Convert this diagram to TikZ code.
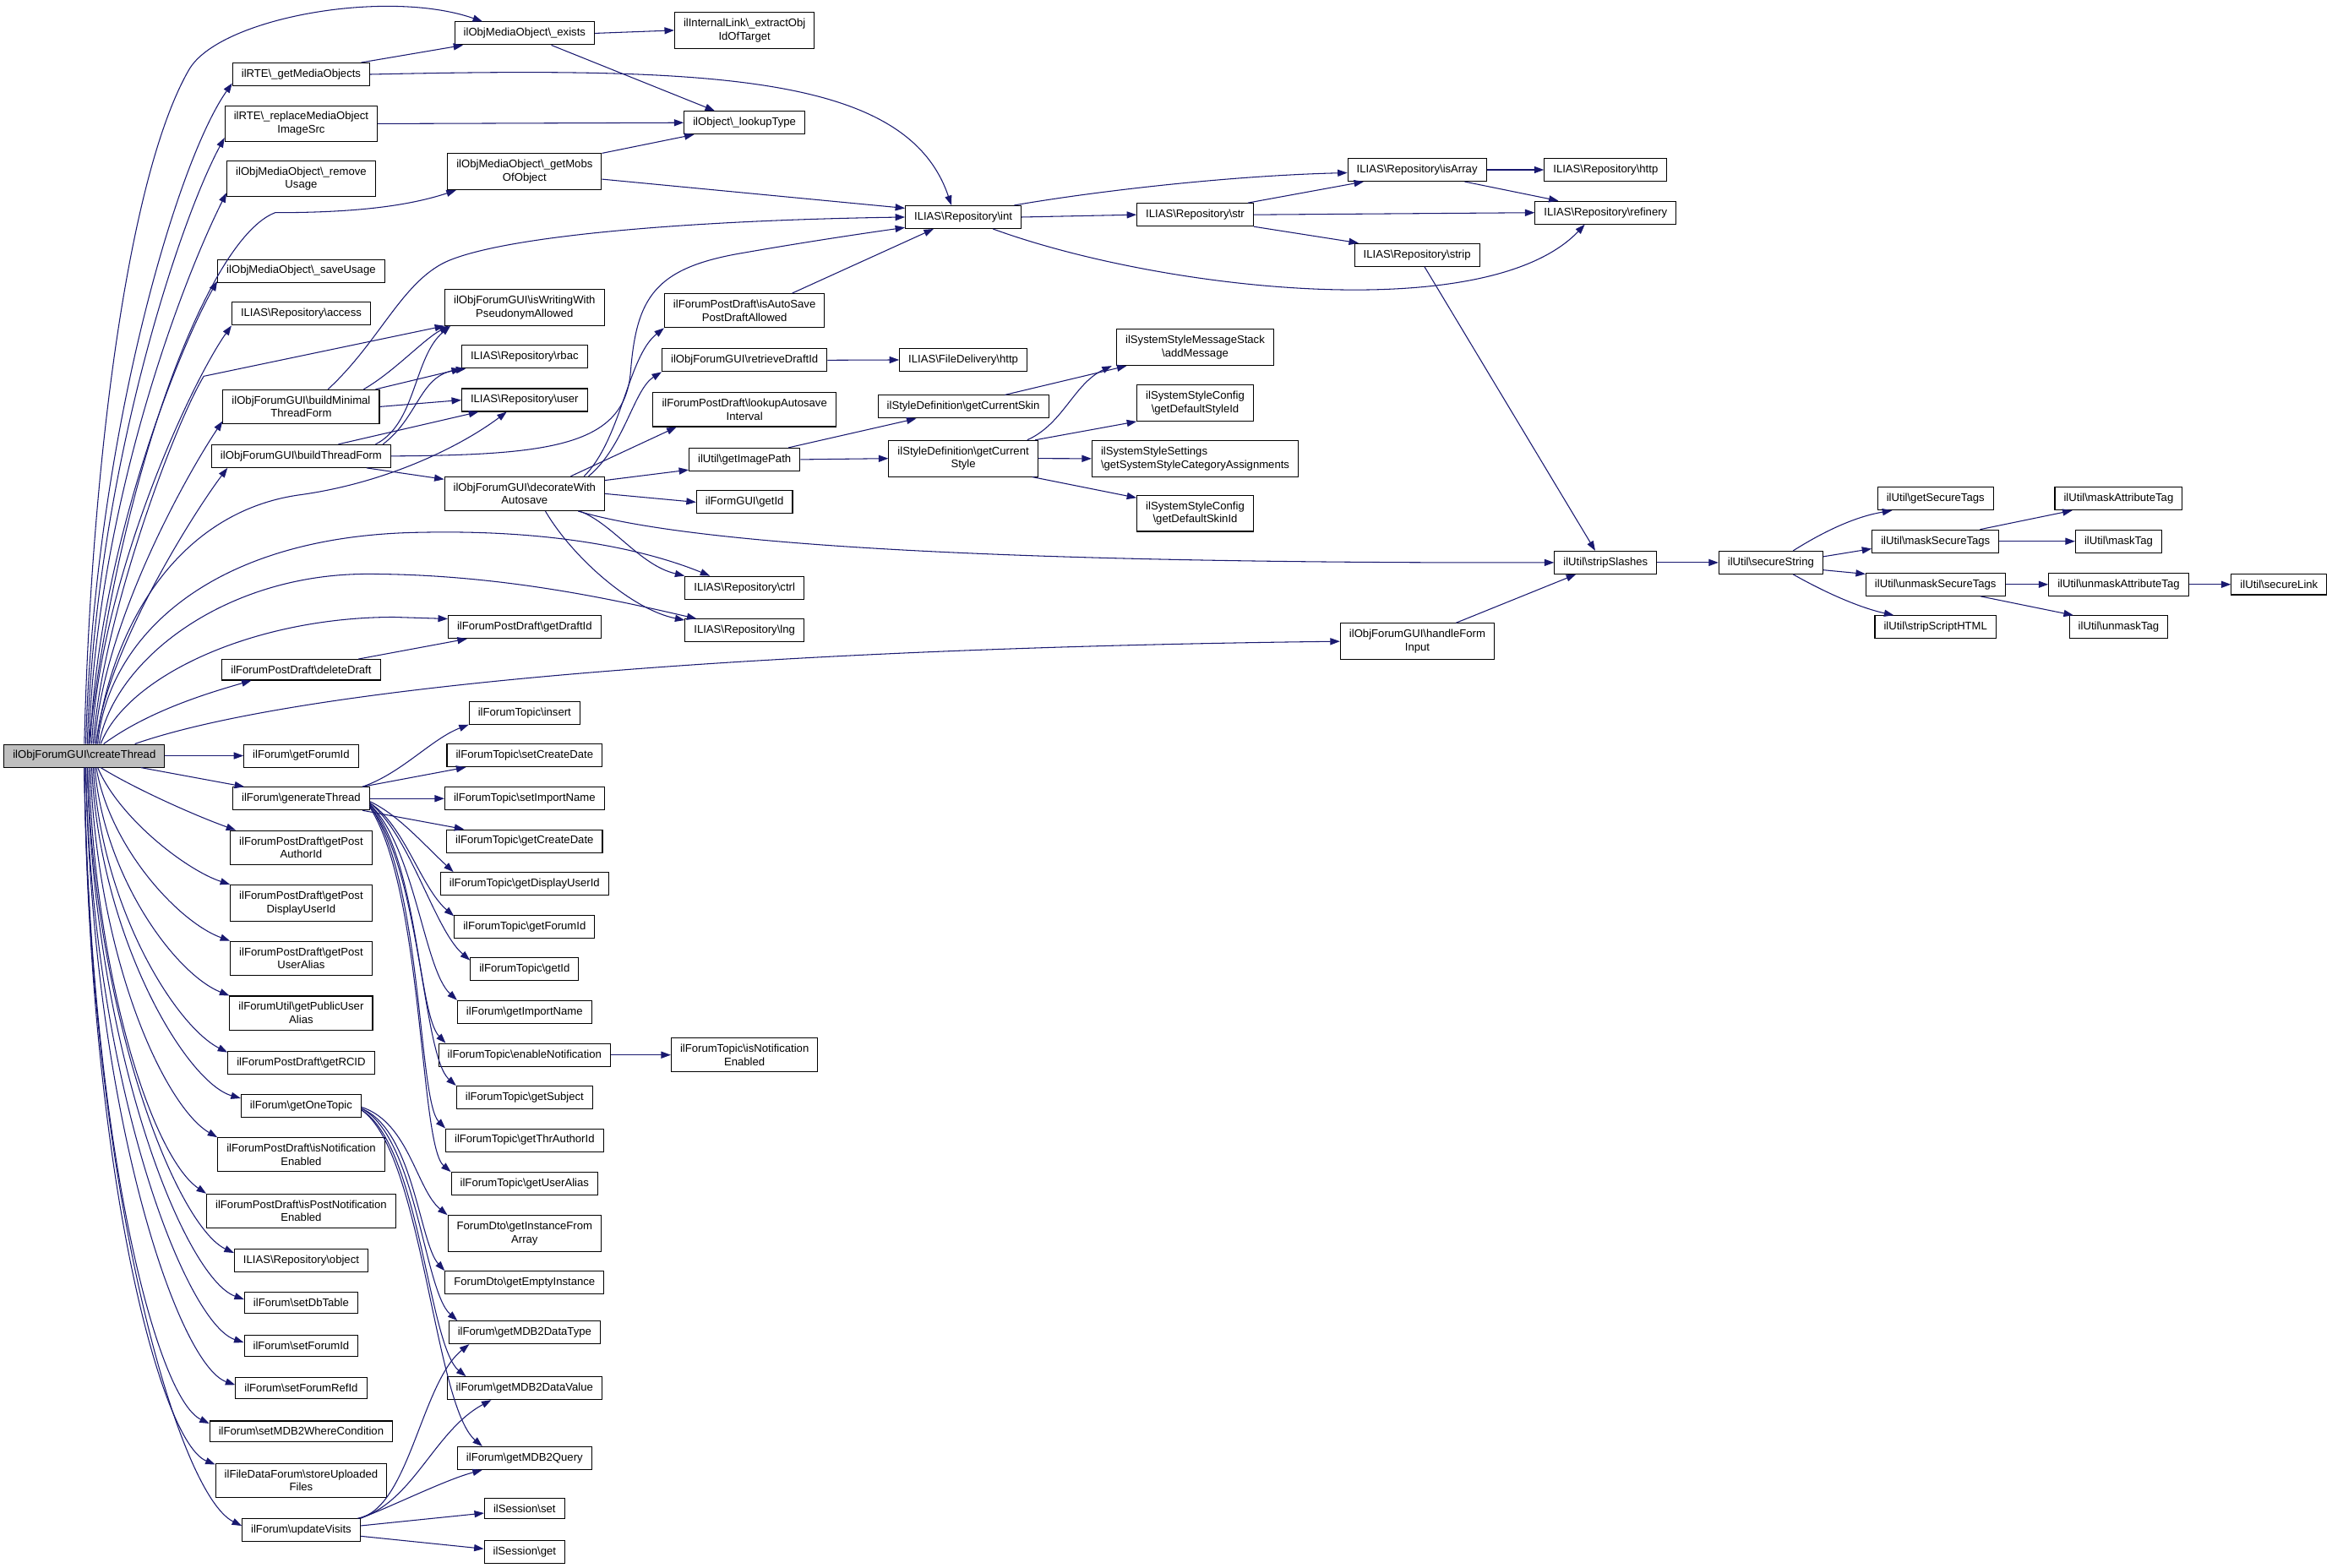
\documentclass[tikz,border=0pt]{standalone}
\usepackage{fontspec}
\setmainfont{Liberation Sans}
\usetikzlibrary{arrows.meta}
\definecolor{callblue}{HTML}{191970}
\newcommand{\bs}{\textbackslash}
\tikzset{
  fn/.style={draw=black, line width=0.6pt, fill=white, inner xsep=6pt, inner ysep=4.2pt,
    align=center, font=\fontsize{7.45}{8.95}\selectfont},
  rootfn/.style={fn, fill=black!25},
  call/.style={draw=callblue, line width=0.6pt, -{Triangle[length=6.5pt,width=4.6pt]}},
}
\begin{document}
\begin{tikzpicture}[x=1pt,y=-1pt]
  \fill[white] (0,0) rectangle (1568,1054);
  \useasboundingbox (0,0) rectangle (1568,1054);

  % caller
  \node[rootfn] (ct) at (56.7,508.2) {ilObjForumGUI\bs createThread};

  % first column of callees
  \node[fn] (gmo) at (202.5,50) {ilRTE\bs\_getMediaObjects};
  \node[fn] (rmo) at (202.5,83.2) {ilRTE\bs\_replaceMediaObject\\ImageSrc};
  \node[fn] (rmu) at (202.5,120.2) {ilObjMediaObject\bs\_remove\\Usage};
  \node[fn] (smu) at (202.5,182.1) {ilObjMediaObject\bs\_saveUsage};
  \node[fn] (acc) at (202.5,211) {ILIAS\bs Repository\bs access};
  \node[fn] (bmt) at (202.5,273.5) {ilObjForumGUI\bs buildMinimal\\ThreadForm};
  \node[fn] (btf) at (202.5,306.7) {ilObjForumGUI\bs buildThreadForm};
  \node[fn] (ddr) at (202.5,450.4) {ilForumPostDraft\bs deleteDraft};
  \node[fn] (gfi) at (202.5,508.2) {ilForum\bs getForumId};
  \node[fn] (gth) at (202.5,537) {ilForum\bs generateThread};
  \node[fn] (gpa) at (202.5,570) {ilForumPostDraft\bs getPost\\AuthorId};
  \node[fn] (gpd) at (202.5,607.2) {ilForumPostDraft\bs getPost\\DisplayUserId};
  \node[fn] (gpu) at (202.5,644.4) {ilForumPostDraft\bs getPost\\UserAlias};
  \node[fn] (gpub) at (202.5,681.2) {ilForumUtil\bs getPublicUser\\Alias};
  \node[fn] (grc) at (202.5,714.6) {ilForumPostDraft\bs getRCID};
  \node[fn] (got) at (202.5,743.5) {ilForum\bs getOneTopic};
  \node[fn] (pne) at (202.5,776.5) {ilForumPostDraft\bs isNotification\\Enabled};
  \node[fn] (ppne) at (202.5,814.3) {ilForumPostDraft\bs isPostNotification\\Enabled};
  \node[fn] (obj) at (202.5,847.5) {ILIAS\bs Repository\bs object};
  \node[fn] (sdt) at (202.5,876) {ilForum\bs setDbTable};
  \node[fn] (sfi) at (202.5,905) {ilForum\bs setForumId};
  \node[fn] (sfr) at (202.5,933.5) {ilForum\bs setForumRefId};
  \node[fn] (swc) at (202.5,962.5) {ilForum\bs setMDB2WhereCondition};
  \node[fn] (suf) at (202.5,995.5) {ilFileDataForum\bs storeUploaded\\Files};
  \node[fn] (upv) at (202.5,1029) {ilForum\bs updateVisits};

  % second column
  \node[fn] (ex) at (352.7,22.4) {ilObjMediaObject\bs\_exists};
  \node[fn] (gmb) at (352.7,115.5) {ilObjMediaObject\bs\_getMobs\\OfObject};
  \node[fn] (iww) at (352.7,206.7) {ilObjForumGUI\bs isWritingWith\\PseudonymAllowed};
  \node[fn] (rbac) at (352.7,240) {ILIAS\bs Repository\bs rbac};
  \node[fn] (usr) at (352.7,269) {ILIAS\bs Repository\bs user};
  \node[fn] (dwa) at (352.7,332) {ilObjForumGUI\bs decorateWith\\Autosave};
  \node[fn] (gdi) at (352.7,421.6) {ilForumPostDraft\bs getDraftId};
  \node[fn] (tin) at (352.7,479.3) {ilForumTopic\bs insert};
  \node[fn] (tscd) at (352.7,508) {ilForumTopic\bs setCreateDate};
  \node[fn] (tsin) at (352.7,537) {ilForumTopic\bs setImportName};
  \node[fn] (tgcd) at (352.7,565.6) {ilForumTopic\bs getCreateDate};
  \node[fn] (tgdu) at (352.7,594.3) {ilForumTopic\bs getDisplayUserId};
  \node[fn] (tgfi) at (352.7,623) {ilForumTopic\bs getForumId};
  \node[fn] (tgid) at (352.7,651.7) {ilForumTopic\bs getId};
  \node[fn] (fgin) at (352.7,680.5) {ilForum\bs getImportName};
  \node[fn] (ten) at (352.7,709.4) {ilForumTopic\bs enableNotification};
  \node[fn] (tgs) at (352.7,738) {ilForumTopic\bs getSubject};
  \node[fn] (tgta) at (352.7,766.7) {ilForumTopic\bs getThrAuthorId};
  \node[fn] (tgua) at (352.7,796) {ilForumTopic\bs getUserAlias};
  \node[fn] (dgia) at (352.7,829.5) {ForumDto\bs getInstanceFrom\\Array};
  \node[fn] (dgei) at (352.7,862.5) {ForumDto\bs getEmptyInstance};
  \node[fn] (gdt) at (352.7,896) {ilForum\bs getMDB2DataType};
  \node[fn] (gdv) at (352.7,933.5) {ilForum\bs getMDB2DataValue};
  \node[fn] (gq) at (352.7,980.5) {ilForum\bs getMDB2Query};
  \node[fn] (sset) at (352.7,1014.5) {ilSession\bs set};
  \node[fn] (sget) at (352.7,1043.5) {ilSession\bs get};

  % third column
  \node[fn] (iel) at (500.6,20.4) {ilInternalLink\bs\_extractObj\\IdOfTarget};
  \node[fn] (lty) at (500.6,82.5) {ilObject\bs\_lookupType};
  \node[fn] (ias) at (500.6,208.9) {ilForumPostDraft\bs isAutoSave\\PostDraftAllowed};
  \node[fn] (rdi) at (500.6,242.2) {ilObjForumGUI\bs retrieveDraftId};
  \node[fn] (las) at (500.6,275.5) {ilForumPostDraft\bs lookupAutosave\\Interval};
  \node[fn] (gip) at (500.6,309) {ilUtil\bs getImagePath};
  \node[fn] (fgi) at (500.6,337.7) {ilFormGUI\bs getId};
  \node[fn] (ctrl) at (500.6,395.2) {ILIAS\bs Repository\bs ctrl};
  \node[fn] (lng) at (500.6,424) {ILIAS\bs Repository\bs lng};
  \node[fn] (tine) at (500.6,709.4) {ilForumTopic\bs isNotification\\Enabled};

  % further right
  \node[fn] (int) at (647.7,146) {ILIAS\bs Repository\bs int};
  \node[fn] (fdh) at (647.7,242) {ILIAS\bs FileDelivery\bs http};
  \node[fn] (gcs) at (647.7,273.5) {ilStyleDefinition\bs getCurrentSkin};
  \node[fn] (gcst) at (647.7,308.3) {ilStyleDefinition\bs getCurrent\\Style};
  \node[fn] (str) at (803.6,144.4) {ILIAS\bs Repository\bs str};
  \node[fn] (amsg) at (803.6,233.6) {ilSystemStyleMessageStack\\\bs addMessage};
  \node[fn] (gdsi) at (803.6,271) {ilSystemStyleConfig\\\bs getDefaultStyleId};
  \node[fn, align=left] (gsca) at (803.6,308.4) {ilSystemStyleSettings\\\bs getSystemStyleCategoryAssignments};
  \node[fn] (gdsk) at (803.6,345.2) {ilSystemStyleConfig\\\bs getDefaultSkinId};
  \node[fn] (isa) at (952.8,114.2) {ILIAS\bs Repository\bs isArray};
  \node[fn] (strp) at (952.8,171.4) {ILIAS\bs Repository\bs strip};
  \node[fn] (hfi) at (953,431.3) {ilObjForumGUI\bs handleForm\\Input};
  \node[fn] (rhttp) at (1079.6,114.2) {ILIAS\bs Repository\bs http};
  \node[fn] (ref) at (1079.6,143) {ILIAS\bs Repository\bs refinery};
  \node[fn] (ssl) at (1079.6,378.3) {ilUtil\bs stripSlashes};
  \node[fn] (sst) at (1190.7,378.3) {ilUtil\bs secureString};
  \node[fn] (gst) at (1301.4,335.3) {ilUtil\bs getSecureTags};
  \node[fn] (mst) at (1301.4,364) {ilUtil\bs maskSecureTags};
  \node[fn] (ust) at (1301.4,393) {ilUtil\bs unmaskSecureTags};
  \node[fn] (ssh) at (1301.4,421.7) {ilUtil\bs stripScriptHTML};
  \node[fn] (mat) at (1424.5,335.3) {ilUtil\bs maskAttributeTag};
  \node[fn] (mtg) at (1424.5,364) {ilUtil\bs maskTag};
  \node[fn] (uat) at (1424.5,393) {ilUtil\bs unmaskAttributeTag};
  \node[fn] (utg) at (1424.5,421.7) {ilUtil\bs unmaskTag};
  \node[fn] (slk) at (1532.4,393) {ilUtil\bs secureLink};

  % straight calls
  \foreach \src/\dst in {ct/gfi,rmo/lty,ex/iel,bmt/usr,gth/tsin,dwa/fgi,rdi/fdh,gip/gcst,gcst/gsca,
      int/str,str/ref,isa/rhttp,ssl/sst,mst/mtg,ust/uat,uat/slk,ten/tine}
    \draw[call] (\src.east) -- (\dst.west);

  % createThread, upwards
  \draw[call] (ct.north) .. controls (61,320) and (85,120) .. (127,47) .. controls (147,12) and (260,-8) .. ([xshift=19pt]ex.north west);
  \draw[call] ([xshift=1pt]ct.north) .. controls (63,300) and (118,110) .. ([yshift=2pt]gmo.south west);
  \draw[call] ([xshift=2pt]ct.north) .. controls (64,320) and (120,150) .. ([yshift=3pt]rmo.south west);
  \draw[call] ([xshift=3pt]ct.north) .. controls (65,340) and (122,190) .. ([yshift=3pt]rmu.south west);
  \draw[call] ([xshift=3pt]ct.north) .. controls (80,320) and (140,160) .. (185,143) .. controls (230,143) and (270,140) .. ([xshift=6pt]gmb.south west);
  \draw[call] ([xshift=4pt]ct.north) .. controls (66,370) and (120,235) .. ([yshift=1pt]smu.south west);
  \draw[call] ([xshift=5pt]ct.north) .. controls (67,390) and (128,258) .. (acc.south west);
  \draw[call] ([xshift=6pt]ct.north) .. controls (68,420) and (115,290) .. (137,253) -- (iww.south west);
  \draw[call] ([xshift=7pt]ct.north) .. controls (69,420) and (125,320) .. ([yshift=2pt]bmt.south west);
  \draw[call] ([xshift=8pt]ct.north) .. controls (70,440) and (130,345) .. ([xshift=11pt]btf.south west);
  \draw[call] ([xshift=8pt]ct.north) .. controls (75,420) and (120,345) .. (200,333) .. controls (260,325) and (310,300) .. ([xshift=-12pt]usr.south);
  \draw[call] ([xshift=9pt]ct.north) .. controls (72,430) and (140,360) .. (283,358) .. controls (380,356) and (440,372) .. ([xshift=17pt]ctrl.north west);
  \draw[call] ([xshift=10pt]ct.north) .. controls (76,445) and (150,386) .. (247,386) .. controls (340,386) and (420,405) .. ([xshift=8pt]lng.north west);
  \draw[call] ([xshift=11pt]ct.north) .. controls (85,455) and (170,415) .. (265,415) -- ([yshift=-2.5pt]gdi.north west);
  \draw[call] ([xshift=13pt]ct.north) .. controls (100,478) and (140,466) .. ([xshift=20pt]ddr.south west);
  \draw[call] ([xshift=34pt]ct.north) .. controls (200,462) and (500,436) .. (hfi.west);

  % createThread, downwards
  \draw[call] ([xshift=38pt]ct.south) -- ([xshift=8pt]gth.north west);
  \draw[call] ([xshift=11pt]ct.south) .. controls (90,530) and (130,548) .. ([xshift=4pt]gpa.north west);
  \draw[call] ([xshift=9pt]ct.south) .. controls (80,550) and (125,585) .. (gpd.north west);
  \draw[call] ([xshift=8pt]ct.south) .. controls (74,570) and (120,620) .. (gpu.north west);
  \draw[call] ([xshift=7pt]ct.south) .. controls (70,590) and (118,655) .. (gpub.north west);
  \draw[call] ([xshift=6pt]ct.south) .. controls (68,610) and (118,690) .. ([yshift=-1pt]grc.north west);
  \draw[call] ([xshift=5pt]ct.south) .. controls (67,630) and (125,728) .. ([yshift=-3pt]got.north west);
  \draw[call] ([xshift=4pt]ct.south) .. controls (66,650) and (112,745) .. (pne.north west);
  \draw[call] ([xshift=3pt]ct.south) .. controls (65,670) and (105,780) .. (ppne.north west);
  \draw[call] ([xshift=2pt]ct.south) .. controls (64,690) and (120,825) .. ([yshift=-3pt]obj.north west);
  \draw[call] ([xshift=2pt]ct.south) .. controls (63,710) and (125,860) .. ([yshift=-5pt]sdt.north west);
  \draw[call] ([xshift=1pt]ct.south) .. controls (62,730) and (125,890) .. ([yshift=-5pt]sfi.north west);
  \draw[call] ([xshift=1pt]ct.south) .. controls (62,750) and (120,918) .. ([yshift=-5pt]sfr.north west);
  \draw[call] (ct.south) .. controls (61,770) and (105,940) .. ([yshift=-2pt]swc.north west);
  \draw[call] (ct.south) .. controls (60,790) and (108,970) .. ([yshift=-1pt]suf.north west);
  \draw[call] (ct.south) .. controls (60,800) and (120,1005) .. ([yshift=-5pt]upv.north west);

  % media objects
  \draw[call] ([xshift=-6pt]gmo.north east) -- ([xshift=6pt]ex.south west);
  \draw[call] (gmo.east) .. controls (480,45) and (610,50) .. ([xshift=-8pt]int.north);
  \draw[call] (gmb.north east) -- ([xshift=7pt]lty.south west);
  \draw[call] ([yshift=-5pt]gmb.east) -- ([yshift=6pt]int.west);
  \draw[call] ([xshift=18pt]ex.south) -- ([xshift=-20pt]lty.north);

  % thread forms
  \draw[call] ([xshift=42pt]bmt.north) .. controls (265,250) and (285,228) .. ([xshift=3pt]iww.south west);
  \draw[call] ([xshift=18pt]bmt.north) .. controls (255,230) and (270,190) .. (300,176) .. controls (340,158) and (470,148) .. (int.west);
  \draw[call] ([xshift=50pt]bmt.north) -- (rbac.south west);
  \draw[call] ([xshift=50pt]btf.north) .. controls (280,285) and (278,240) .. ([xshift=4pt]iww.south west);
  \draw[call] ([xshift=55pt]btf.north) .. controls (282,280) and (282,252) .. ([xshift=3pt]rbac.south west);
  \draw[call] ([xshift=25pt]btf.north) -- ([xshift=-31pt]usr.south);
  \draw[call] ([xshift=44pt]btf.south) -- ([yshift=-2pt]dwa.north west);
  \draw[call] (btf.east) .. controls (370,306) and (420,300) .. (424,250) .. controls (428,200) and (440,180) .. (500,170) .. controls (540,163) and (580,157) .. ([yshift=-7pt]int.west);

  % autosave
  \draw[call] ([xshift=40pt]dwa.north) .. controls (418,295) and (422,240) .. (ias.south west);
  \draw[call] ([xshift=43pt]dwa.north) .. controls (420,300) and (426,262) .. (rdi.south west);
  \draw[call] ([xshift=31pt]dwa.north) -- ([xshift=16pt]las.south west);
  \draw[call] ([yshift=9pt]dwa.east) -- ([yshift=1pt]gip.south west);
  \draw[call] ([xshift=36pt]dwa.south) .. controls (470,368) and (700,379) .. (ssl.west);
  \draw[call] ([xshift=37pt]dwa.south) .. controls (412,352) and (430,380) .. (ctrl.north west);
  \draw[call] ([xshift=14pt]dwa.south) .. controls (385,375) and (425,410) .. ([yshift=-1pt]lng.north west);
  \draw[call] ([xshift=32pt]ias.north) -- ([xshift=-20pt]int.south);
  \draw[call] ([xshift=-15pt]ddr.north east) -- ([xshift=13pt]gdi.south west);

  % styles
  \draw[call] ([xshift=-8pt]gip.north east) -- ([xshift=26pt]gcs.south west);
  \draw[call] ([xshift=28pt]gcs.north) -- ([xshift=7pt]amsg.south west);
  \draw[call] ([xshift=43pt]gcst.north) .. controls (715,285) and (722,258) .. ([xshift=-3pt]amsg.south west);
  \draw[call] ([xshift=-2pt]gcst.north east) -- (gdsi.south west);
  \draw[call] ([xshift=-4pt]gcst.south east) -- ([yshift=-2pt]gdsk.north west);

  % repository and strings
  \draw[call] ([xshift=-5pt]int.north east) .. controls (740,128) and (830,118) .. ([yshift=-2pt]isa.west);
  \draw[call] ([xshift=20pt]int.south) .. controls (780,195) and (1000,220) .. ([xshift=-14pt]ref.south);
  \draw[call] ([xshift=-4pt]str.north east) -- ([xshift=11pt]isa.south west);
  \draw[call] (str.south east) -- ([xshift=3pt]strp.north west);
  \draw[call] ([xshift=32pt]isa.south) -- ([xshift=16pt]ref.north west);
  \draw[call] ([xshift=5pt]strp.south) -- ([xshift=-7pt]ssl.north);
  \draw[call] ([xshift=26pt]hfi.north) -- ([xshift=-20pt]ssl.south);
  \draw[call] ([xshift=15pt]sst.north) .. controls (1230,355) and (1250,347) .. ([xshift=10pt]gst.south west);
  \draw[call] ([yshift=4pt]sst.east) -- ([yshift=-5pt]mst.west);
  \draw[call] ([yshift=-5pt]sst.east) -- ([yshift=7pt]ust.west);
  \draw[call] ([xshift=15pt]sst.south) .. controls (1230,400) and (1252,409) .. ([xshift=13pt]ssh.north west);
  \draw[call] ([xshift=-13pt]mst.north east) -- ([xshift=12pt]mat.south west);
  \draw[call] ([xshift=-17pt]ust.south east) -- ([xshift=3pt]utg.north west);

  % generateThread
  \draw[call] ([xshift=-5pt]gth.north east) .. controls (270,520) and (290,497) .. (tin.south west);
  \draw[call] ([xshift=-5pt]gth.north east) -- ([xshift=13pt]tscd.south west);
  \draw[call] ([xshift=-5pt]gth.south east) -- ([xshift=12pt]tgcd.north west);
  \draw[call] ([yshift=-2pt]gth.east) .. controls (268,548) and (285,568) .. ([xshift=9pt]tgdu.north west);
  \draw[call] ([yshift=-3pt]gth.east) .. controls (272,555) and (283,597) .. ([yshift=-1pt]tgfi.north west);
  \draw[call] ([yshift=-3pt]gth.east) .. controls (276,562) and (292,625) .. ([yshift=-2pt]tgid.north west);
  \draw[call] ([yshift=-4pt]gth.east) .. controls (279,570) and (285,652) .. (fgin.north west);
  \draw[call] ([yshift=-4pt]gth.east) .. controls (281,578) and (281,682) .. ([xshift=5pt]ten.north west);
  \draw[call] ([yshift=-5pt]gth.east) .. controls (283,585) and (284,710) .. (tgs.north west);
  \draw[call] ([yshift=-5pt]gth.east) .. controls (284,592) and (281,740) .. (tgta.north west);
  \draw[call] ([yshift=-6pt]gth.east) .. controls (285,600) and (282,770) .. (tgua.north west);

  % getOneTopic
  \draw[call] ([yshift=-1pt]got.east) .. controls (275,755) and (280,800) .. (dgia.north west);
  \draw[call] ([yshift=-2pt]got.east) .. controls (278,760) and (282,836) .. (dgei.north west);
  \draw[call] ([yshift=-2pt]got.east) .. controls (280,765) and (285,868) .. ([xshift=6pt]gdt.north west);
  \draw[call] ([yshift=-3pt]got.east) .. controls (282,770) and (288,905) .. ([xshift=13pt]gdv.north west);
  \draw[call] ([yshift=-3pt]got.east) .. controls (284,775) and (292,945) .. ([xshift=17pt]gq.north west);

  % updateVisits
  \draw[call] ([xshift=-2pt]upv.north east) .. controls (275,1015) and (283,930) .. ([xshift=14pt]gdt.south west);
  \draw[call] ([xshift=-1pt]upv.north east) .. controls (278,1010) and (292,962) .. ([xshift=30pt]gdv.south west);
  \draw[call] (upv.north east) .. controls (270,1010) and (300,995) .. ([xshift=17pt]gq.south west);
  \draw[call] ([yshift=3pt]upv.east) -- ([yshift=-3pt]sset.west);
  \draw[call] ([yshift=-4pt]upv.east) -- ([yshift=2pt]sget.west);
\end{tikzpicture}
\end{document}
